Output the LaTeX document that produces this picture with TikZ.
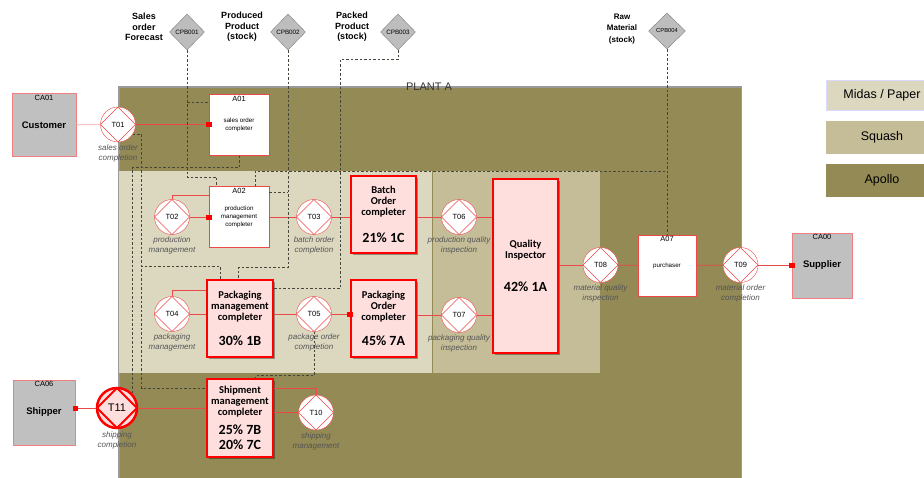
\documentclass[tikz,border=0pt]{standalone}
\usepackage{fontspec}
\setmainfont{Liberation Sans}
\newfontfamily\calibri{Carlito}
\usetikzlibrary{shapes.geometric, shadows, arrows.meta}
\definecolor{apollo}{HTML}{938A55}
\definecolor{squash}{HTML}{C4BD98}
\definecolor{midas}{HTML}{DCD8C0}
\definecolor{edgered}{HTML}{EC4848}
\definecolor{pinkfill}{HTML}{FFDEDE}
\definecolor{actorgray}{HTML}{C0C0C0}
\definecolor{bankgray}{HTML}{BDBDBD}
\definecolor{dashgray}{HTML}{45453A}
\definecolor{captiongray}{HTML}{555555}
\newcommand{\pctfont}{\calibri\bfseries\fontsize{14}{16}\selectfont}

\begin{document}
\begin{tikzpicture}[x=1pt, y=-1pt,
  every node/.style={font=\fontsize{8}{9}\selectfont},
  actor/.style={draw=edgered!70, fill=actorgray, font=\fontsize{9.5}{10}\selectfont\bfseries},
  idtop/.style={anchor=north, inner sep=1.5pt, font=\fontsize{7.5}{8}\selectfont},
  role/.style={draw=edgered, fill=white, minimum width=60, minimum height=61, align=center, font=\fontsize{6.2}{7.8}\selectfont},
  trans/.style={circle, draw=edgered, fill=white, minimum size=35, inner sep=0pt, font=\fontsize{7.5}{8}\selectfont,
    path picture={\draw[edgered] (path picture bounding box.north) -- (path picture bounding box.east) -- (path picture bounding box.south) -- (path picture bounding box.west) -- cycle;}},
  endtrans/.style={circle, draw=red, line width=2.5pt, fill=pinkfill, minimum size=40, inner sep=0pt, font=\fontsize{11}{12}\selectfont,
    path picture={\draw[red, line width=2pt] (path picture bounding box.north) -- (path picture bounding box.east) -- (path picture bounding box.south) -- (path picture bounding box.west) -- cycle;}},
  caption/.style={align=center, text=captiongray, font=\fontsize{8}{10}\selectfont\itshape, inner sep=0pt, label distance=2pt},
  completer/.style={draw=red, line width=2.5pt, fill=pinkfill, align=center, minimum width=65, minimum height=77,
    font=\calibri\bfseries\fontsize{10.5}{11}\selectfont, drop shadow={shadow xshift=2pt, shadow yshift=-2pt, opacity=0.35, fill=black}},
  bank/.style={diamond, draw=gray, fill=bankgray, minimum width=35, minimum height=36, inner sep=0pt, font=\fontsize{6.3}{7}\selectfont},
  banktitle/.style={align=center, font=\fontsize{9}{10.6}\selectfont\bfseries},
  link/.style={edgered, line width=0.7pt},
  sqtip/.style={-{Square[length=5pt, width=5pt, color=red]}, shorten >=-2.5pt},
  dashline/.style={dashgray, line width=0.8pt, dash pattern=on 2.5pt off 2pt},
  legend/.style={minimum width=112, inner sep=0pt, font=\fontsize{12.5}{14}\selectfont}
]
  \useasboundingbox (0,0) rectangle (924,477);

  % plant and departments
  \node[fill=apollo, anchor=north west, inner sep=0pt, minimum width=622, minimum height=392] (plant) at (119,87) {};
  \draw[gray!80, line width=1.5pt] (plant.south west) -- (plant.north west) -- (plant.north east) -- (plant.south east);
  \node[font=\fontsize{11}{12}\selectfont, text=black!80] (plantname) at (429,87) {PLANT A};
  \node[fill=midas, anchor=north west, inner sep=0pt, minimum width=313, minimum height=202] (midas) at (119,171) {};
  \node[fill=squash, anchor=north west, inner sep=0pt, minimum width=167, minimum height=202] (squash) at (midas.north east) {};

  % legend
  \node[legend, fill=midas, draw=blue!15, minimum height=30] (legmidas) at (882,95) {Midas / Paper};
  \node[legend, fill=squash, minimum height=33] (legsquash) at (882,137.5) {Squash};
  \node[legend, fill=apollo, minimum height=33] (legapollo) at (882,180) {Apollo};

  % banks
  \node[bank] (cpb001) at (187,32) {CPB001};
  \node[bank] (cpb002) at (288,32) {CPB002};
  \node[bank] (cpb003) at (398,32) {CPB003};
  \node[bank, minimum width=37, font=\fontsize{5.8}{6}\selectfont] (cpb004) at (667,31) {CPB004};
  \node[banktitle] (forecast) at (144,27) {Sales\\order\\Forecast};
  \node[banktitle] (produced) at (242,27) {Produced\\Product\\(stock)};
  \node[banktitle] (packed) at (352,27) {Packed\\Product\\(stock)};
  \node[banktitle, font=\fontsize{8}{11.5}\selectfont\bfseries] (rawmat) at (622,29) {Raw\\Material\\(stock)};

  % actors outside
  \node[actor, minimum width=64, minimum height=63, label={[idtop]90:CA01}] (ca01) at (44,125) {Customer};
  \node[actor, minimum width=60, minimum height=65, label={[idtop]90:CA00}] (ca00) at (822,265.5) {Supplier};
  \node[actor, minimum width=62, minimum height=65, label={[idtop]90:CA06}] (ca06) at (44,412.5) {Shipper};

  % roles
  \node[role, label={[idtop]90:A01}] (a01) at (239,125) {sales order\\completer};
  \node[role, label={[idtop]90:A02}] (a02) at (239,217) {production\\management\\completer};
  \node[role, minimum width=58, label={[idtop]90:A07}] (a07) at (667,265.5) {purchaser};

  % completers
  \node[completer] (batch) at (383.5,214.5) {Batch\\Order\\completer\\[15pt]{\pctfont 21\% 1C}};
  \node[completer, minimum width=66] (pmc) at (240,318.5) {Packaging\\management\\completer\\[13pt]{\pctfont 30\% 1B}};
  \node[completer] (poc) at (383.5,318.5) {Packaging\\Order\\completer\\[13pt]{\pctfont 45\% 7A}};
  \node[completer, minimum height=174] (qi) at (525.5,266) {Quality\\Inspector\\[20pt]{\pctfont 42\% 1A}};
  \node[completer, minimum width=66, minimum height=78] (smc) at (240,418) {Shipment\\management\\completer\\[6pt]{\pctfont 25\% 7B}\\[4pt]{\pctfont 20\% 7C}};

  % transactions
  \node[trans, label={[caption]below:sales order\\completion}] (t01) at (118,124.5) {T01};
  \node[trans, label={[caption]below:production\\management}] (t02) at (172,217) {T02};
  \node[trans, label={[caption]below:batch order\\completion}] (t03) at (314,217) {T03};
  \node[trans, label={[caption]below:packaging\\management}] (t04) at (172,314) {T04};
  \node[trans, label={[caption]below:package order\\completion}] (t05) at (314,314) {T05};
  \node[trans, label={[caption]below:production quality\\inspection}] (t06) at (459,217) {T06};
  \node[trans, label={[caption]below:packaging quality\\inspection}] (t07) at (459,315) {T07};
  \node[trans, label={[caption]below:material quality\\inspection}] (t08) at (600.5,265) {T08};
  \node[trans, label={[caption]below:material order\\completion}] (t09) at (740.5,265) {T09};
  \node[trans, label={[caption]below:shipping\\management}] (t10) at (316,412.5) {T10};
  \node[endtrans, label={[caption]below:shipping\\completion}] (t11) at (117,408) {T11};

  % links
  \draw[link, edgered!50] (ca01) -- (t01);
  \draw[link, sqtip] (t01) -- (a01.west |- t01);
  \draw[link] (t02.north) |- ([yshift=-9]a02.north west);
  \draw[link, sqtip] (t02) -- (a02.west |- t02);
  \draw[link] (a02) -- (t03);
  \draw[link] (t03) -- (t03 -| batch.west);
  \draw[link] (batch.east |- t06) -- (t06);
  \draw[link] (t06) -- (t06 -| qi.west);
  \draw[link] (t04.north) |- ([yshift=-12]pmc.north west);
  \draw[link] (t04) -- (t04 -| pmc.west);
  \draw[link] (pmc.east |- t05) -- (t05);
  \draw[link, sqtip] (t05) -- (t05 -| poc.west);
  \draw[link] (poc.east |- t07) -- (t07);
  \draw[link] (t07) -- (t07 -| qi.west);
  \draw[link] (qi.east |- t08) -- (t08);
  \draw[link] (t08) -- (a07);
  \draw[link] (a07) -- (t09);
  \draw[link, sqtip] (t09) -- (ca00.west |- t09);
  \draw[link, sqtip] (t11) -- (ca06.east |- t11);
  \draw[link] (t11) -- (t11 -| smc.west);
  \draw[link] (smc.east |- t10) -- (t10);
  \draw[link] ([yshift=-11]smc.north east) -| (t10.north);

  % information links
  \coordinate (a01in) at ([yshift=-8]a01.north west);
  \coordinate (a02out) at ([yshift=-6]a02.north east);
  \coordinate (smcin) at ([yshift=-11]smc.north west);
  \draw[dashline] (cpb001.south) -- ++(0,127) -| ([xshift=8]a02.north west);
  \draw[dashline] (cpb001.south |- a01in) -- (a01in);
  \draw[dashline] (a01.south) -- ++(0,12) -| (t11.north east);
  \draw[dashline] (t01.-35) -| ([xshift=-64]smcin) -- (smcin);
  \draw[dashline] ([xshift=15]pmc.north west) -- ++(0,-12) -- ++(-79,0);
  \draw[dashline] (cpb002.south) -- ++(0,217) -| ([xshift=33]pmc.north west);
  \draw[dashline] (a02out) -- (cpb002.south |- a02out);
  \draw[dashline] ([xshift=-14]a02.north east) |- (cpb004.south |- midas.north);
  \draw[dashline] (cpb004.south) -- (a07.north);
  \draw[dashline] (cpb003.south) -- ++(0,9) -- ++(-58,0) |- ([yshift=-10]pmc.north east);
  \draw[dashline] (t05.south) -- ++(0,44) -| ([xshift=50]smc.north west);
\end{tikzpicture}
\end{document}
